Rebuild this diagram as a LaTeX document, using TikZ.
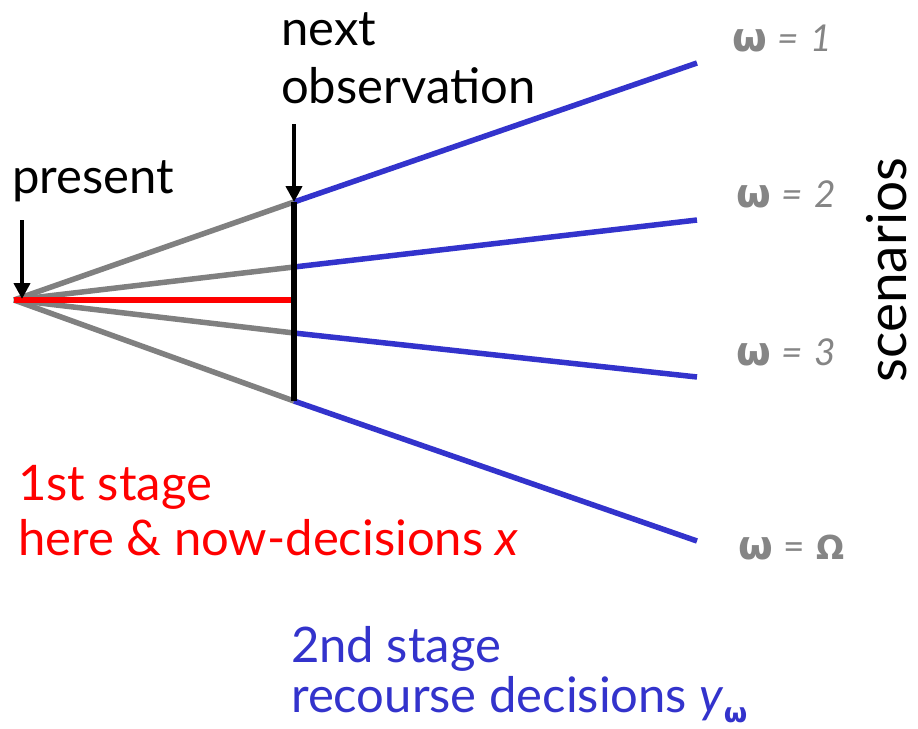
\documentclass[tikz,border=0pt]{standalone}
\usepackage{fontspec}
\setmainfont{Lato}
\newfontfamily\grkfont{DejaVu Sans}
\usetikzlibrary{arrows.meta}
\definecolor{rgray}{HTML}{808080}
\definecolor{lgray}{HTML}{858585}
\definecolor{rblue}{HTML}{3333CC}
\definecolor{rred}{HTML}{FF0000}
\tikzset{
  grayline/.style={rgray, line width=5.5pt},
  blueline/.style={rblue, line width=5.5pt},
  redline/.style={rred, line width=6pt},
  obsline/.style={black, line width=6pt},
  pointer/.style={black, line width=4.5pt, -{Triangle[width=16pt,length=16pt]}},
  bigtext/.style={inner sep=0pt, anchor=base west, font=\fontsize{49}{56}\selectfont},
  omlabel/.style={inner sep=0pt, anchor=west, text=lgray, font=\fontsize{37}{40}\selectfont},
}
\newcommand{\bom}{{\grkfont\bfseries\fontsize{40}{40}\selectfont ω}}
\newcommand{\sep}{\hspace{11pt}}
\begin{document}
\begin{tikzpicture}[x=1pt, y=-1pt]
\useasboundingbox[fill=white] (0,0) rectangle (918,728);
% key points
\coordinate (O) at (14,300);
\coordinate (R) at (291,300);
\coordinate (V1) at (294,202);
\coordinate (V2) at (294,267);
\coordinate (V3) at (294,333);
\coordinate (V4) at (294,401);
\coordinate (E1) at (697,63);
\coordinate (E2) at (697,220);
\coordinate (E3) at (697,377);
\coordinate (E4) at (697,541);
\coordinate (Ptop) at (22,220);
\coordinate (Ptip) at (22,299);
\coordinate (Ntop) at (294,124);
% gray first-stage fan
\draw[grayline] (O) -- (V1);
\draw[grayline] (O) -- (V2);
\draw[grayline] (O) -- (V3);
\draw[grayline] (O) -- (V4);
% blue scenario branches
\draw[blueline] (V1) -- (E1);
\draw[blueline] (V2) -- (E2);
\draw[blueline] (V3) -- (E3);
\draw[blueline] (V4) -- (E4);
% red decision line
\draw[redline] (O) -- (R);
% observation line
\draw[obsline] (V1) -- (V4);
% pointers
\draw[pointer] (Ptop) -- (Ptip);
\draw[pointer] (Ntop) -- (V1);
% texts
\node[bigtext] (present) at (12,193) {present};
\node[bigtext] (next) at (281,45) {next};
\node[bigtext] (obs) at (281,103) {observation};
\node[bigtext, text=rred] (st1a) at (18,500) {1st stage};
\node[bigtext, text=rred] (st1b) at (18,555) {here \& now-decisions \textit{x}};
\node[bigtext, text=rblue] (st2a) at (291,662) {2nd stage};
\node[bigtext, text=rblue] (st2b) at (291,712) {recourse decisions \textit{y}\raisebox{-0.22em}{\grkfont\bfseries\fontsize{27}{27}\selectfont ω}};
% scenario labels
\node[omlabel] (w1) at (732,38) {\bom\sep\textit{=}\sep\textit{1}};
\node[omlabel] (w2) at (736,194) {\bom\sep\textit{=}\sep\textit{2}};
\node[omlabel] (w3) at (736,352) {\bom\sep\textit{=}\sep\textit{3}};
\node[omlabel] (w4) at (738,548) {\bom\sep=\sep{\grkfont\bfseries\fontsize{33}{33}\selectfont Ω}};
\node[inner sep=0pt, rotate=90, font=\fontsize{55}{60}\selectfont] (scen) at (887,270) {scenarios};
\end{tikzpicture}
\end{document}
